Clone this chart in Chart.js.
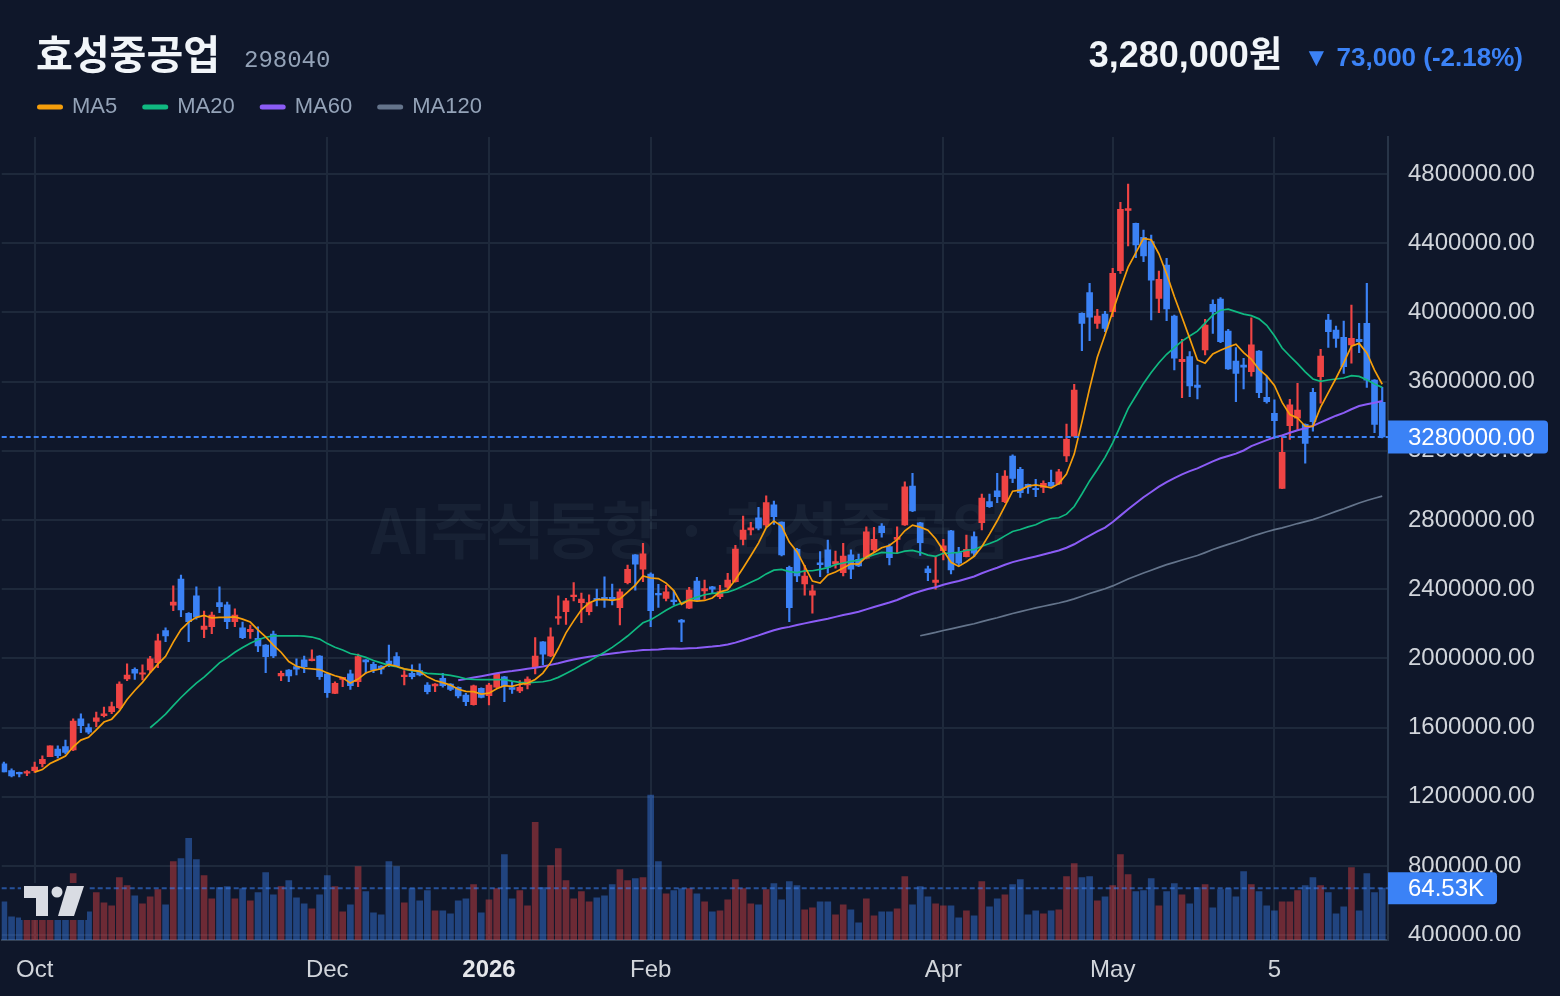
<!DOCTYPE html>
<html lang="ko">
<head>
<meta charset="utf-8">
<title>효성중공업 298040</title>
<script src="https://cdn.jsdelivr.net/npm/chart.js@4.4.1/dist/chart.umd.min.js"></script>
<style>
  html, body { margin: 0; padding: 0; background: #0f172a; }
  #wrap { width: 1560px; height: 996px; }
</style>
</head>
<body>
<div id="wrap"><canvas id="chart" width="1560" height="996"></canvas></div>
<script>
// 일봉 시세 (단위: 천원), 인덱스 0 = 2025년 9월 말
const opens = [
  1390,1351,1340,1336,1351,1391,1432,1476,1490,1471,
  1650,1600,1636,1669,1692,1715,1881,1937,1908,1933,
  1975,2160,2307,2459,2261,2361,2168,2183,2322,2309,
  2212,2176,2154,2116,2077,2141,1898,1933,1952,1991,
  1987,2014,1910,1798,1879,1910,1866,1991,1966,1956,
  1985,2010,1894,1914,1929,1846,1841,1885,1852,1833,
  1788,1732,1827,1784,1833,1894,1831,1812,1846,1949,
  2095,2014,2232,2270,2357,2322,2270,2347,2353,2353,
  2293,2438,2598,2515,2488,2376,2347,2336,2222,2290,
  2447,2390,2414,2357,2411,2443,2688,2742,2813,2771,
  2887,2788,2527,2631,2430,2366,2553,2627,2546,2495,
  2598,2573,2579,2627,2765,2646,2688,2771,2996,2783,
  2517,2439,2623,2738,2611,2588,2704,2784,2906,2969,
  2906,3170,3093,3006,2980,2989,3018,3008,3170,3285,
  3995,4114,3937,3991,4004,4241,4590,4515,4434,4409,
  4081,4274,3979,3715,3744,3580,3783,4047,4077,3892,
  3719,3696,3657,3777,3509,3417,2983,3345,3388,3353,
  3538,3628,3956,3898,3856,3812,3844,3937,3609,3480
];
const highs = [
  1401,1361,1342,1351,1401,1436,1494,1494,1528,1650,
  1679,1621,1690,1719,1748,1864,1968,1946,1962,2012,
  2141,2176,2419,2482,2265,2413,2274,2268,2413,2326,
  2286,2210,2193,2183,2080,2158,1927,1935,1997,2014,
  2049,2016,1912,1864,1891,1933,2025,1993,1979,1958,
  2077,2033,1929,1962,1968,1860,1854,1914,1854,1835,
  1798,1846,1830,1856,1914,1896,1865,1871,1894,2120,
  2097,2176,2361,2347,2438,2378,2367,2400,2471,2430,
  2400,2540,2600,2665,2495,2428,2423,2390,2226,2411,
  2469,2453,2416,2423,2492,2654,2823,2787,2873,2939,
  2910,2790,2534,2636,2538,2424,2617,2684,2621,2665,
  2627,2603,2761,2758,2779,2661,2760,3021,3070,2786,
  2534,2589,2688,2740,2642,2713,2732,2950,2950,3070,
  3085,3176,3105,3008,3035,3027,3089,3093,3355,3584,
  3998,4168,4018,4006,4255,4636,4742,4517,4476,4447,
  4239,4313,3985,3844,3773,3696,3960,4072,4085,3902,
  3796,3735,3969,3780,3632,3494,3291,3498,3590,3356,
  3561,3787,3989,3921,3950,4043,3937,4168,3612,3567
];
const lows = [
  1343,1315,1315,1322,1341,1372,1432,1424,1447,1467,
  1571,1563,1605,1661,1680,1708,1871,1879,1875,1917,
  1946,2097,2276,2241,2097,2226,2120,2143,2264,2172,
  2183,2114,2116,2039,1917,2004,1871,1865,1904,1917,
  1985,1879,1775,1796,1837,1821,1837,1914,1917,1910,
  1952,1955,1846,1881,1898,1794,1808,1833,1813,1771,
  1727,1730,1772,1731,1831,1750,1798,1802,1823,1910,
  1962,2010,2197,2197,2332,2206,2251,2303,2295,2309,
  2193,2430,2395,2443,2183,2295,2332,2309,2097,2288,
  2333,2342,2376,2345,2400,2441,2656,2713,2742,2761,
  2775,2592,2212,2443,2366,2261,2472,2492,2521,2476,
  2461,2530,2575,2611,2700,2540,2608,2769,2848,2595,
  2449,2400,2569,2488,2534,2586,2588,2742,2873,2900,
  2900,3016,2931,2954,2935,2958,2995,3006,3137,3283,
  3779,3836,3908,3888,3975,4226,4384,4316,4293,3956,
  3998,3952,3667,3507,3513,3500,3754,3879,3825,3671,
  3484,3557,3632,3507,3475,3272,2981,3266,3324,3128,
  3314,3475,3798,3798,3648,3706,3767,3567,3305,3275
];
const closes = [
  1343,1320,1332,1345,1372,1417,1494,1438,1457,1638,
  1611,1573,1657,1680,1721,1852,1904,1914,1917,1997,
  2101,2130,2326,2280,2212,2238,2187,2251,2299,2212,
  2251,2120,2168,2072,2010,2014,1914,1898,1937,1952,
  1995,1894,1802,1856,1891,1842,2010,1979,1933,1937,
  1968,1956,1904,1894,1904,1808,1852,1842,1821,1783,
  1750,1841,1774,1846,1910,1841,1821,1833,1881,2014,
  2025,2124,2241,2332,2362,2343,2322,2338,2338,2338,
  2384,2515,2544,2604,2276,2367,2384,2328,2210,2395,
  2338,2403,2400,2386,2453,2632,2742,2754,2752,2900,
  2819,2598,2293,2476,2476,2390,2542,2527,2559,2592,
  2515,2534,2732,2688,2727,2582,2700,2991,2852,2669,
  2495,2453,2650,2511,2550,2631,2608,2926,2877,2935,
  3054,3041,2958,2989,2975,3012,2996,3079,3266,3551,
  3937,3972,3979,3908,4226,4596,4600,4390,4326,4187,
  4191,4020,3735,3729,3575,3567,3927,4004,3831,3673,
  3648,3683,3812,3536,3484,3374,3191,3465,3436,3243,
  3368,3748,3888,3850,3686,3850,3831,3609,3353,3280
];
// 거래량 (단위: 천주)
const volumes = [
  47.6,28.8,27.6,40.1,46.4,42.6,61.4,42.6,48.9,82.7,
  55.1,35.1,58.9,46.4,42.6,77.7,67.7,55.1,45.1,53.9,
  62.7,43.9,97.7,101.5,126.6,100.3,80.2,51.4,65.2,66.4,
  51.4,63.9,48.9,58.9,84.0,56.4,66.4,73.9,52.6,45.1,
  38.8,56.4,80.2,66.4,35.1,43.9,91.5,60.2,33.8,31.3,
  97.7,91.5,46.4,63.9,48.9,61.4,36.3,36.3,32.6,48.9,
  51.4,68.9,33.8,50.1,63.9,106.5,51.4,61.4,42.6,146.6,
  65.2,92.7,114.0,73.9,51.4,60.2,47.6,52.6,55.1,68.9,
  87.7,73.9,76.4,77.7,180.5,97.7,57.6,61.4,63.9,63.9,
  57.6,47.6,35.1,36.3,50.1,75.2,63.9,45.1,43.9,62.7,
  70.2,50.1,72.7,67.7,37.6,40.1,47.6,47.6,31.3,43.9,
  37.6,21.3,51.4,30.1,35.1,35.1,38.8,78.9,43.9,66.4,
  53.9,45.1,42.6,42.6,27.6,36.3,30.1,72.7,41.4,51.4,
  56.4,68.9,75.2,31.3,36.3,32.6,36.3,37.6,78.9,95.2,
  77.7,78.9,48.9,53.9,67.7,106.5,81.5,60.2,61.4,76.4,
  42.6,60.2,70.2,56.4,45.1,65.2,68.9,40.1,62.7,63.9,
  53.9,85.2,68.9,60.2,42.6,36.3,47.6,47.6,61.4,67.7,
  77.7,67.7,58.9,32.6,41.4,90.2,36.3,82.7,58.9,64.53
];

// 시간축 눈금 (봉 인덱스 / 표시 글자)
const tickIdx = [4, 42, 63, 84, 122, 144, 165];
const tickLabels = ['Oct', 'Dec', '2026', 'Feb', 'Apr', 'May', '5'];
// 가격축 눈금
const priceTicks = [400000, 800000, 1200000, 1600000, 2000000, 2400000, 2800000,
  3200000, 3600000, 4000000, 4400000, 4800000];

const maPeriods = [5, 20, 60, 120];
const maColors = ['#f59e0b', '#10b981', '#8b5cf6', '#64748b'];

const BG = '#0f172a';
const UP = '#ef4444';
const DOWN = '#3b82f6';
const SANS = '"Liberation Sans", Arial, "Noto Sans CJK KR", sans-serif';

const lastPrice = closes[closes.length - 1] * 1000;
const lastVol = volumes[volumes.length - 1] * 1000;
const prevClose = closes[closes.length - 2] * 1000;

const isUp = closes.map((c, i) => c >= opens[i]);
const candleColor = isUp.map(u => u ? UP : DOWN);
const volColor = isUp.map(u => u ? 'rgba(239,68,68,0.42)' : 'rgba(59,130,246,0.42)');

// 이동평균선 (종가 기준)
function movingAvg(n) {
  const out = [];
  for (let i = n - 1; i < closes.length; i++) {
    let s = 0;
    for (let k = i - n + 1; k <= i; k++) s += closes[k];
    out.push({ x: i, y: s / n * 1000 });
  }
  return out;
}

const maDatasets = maPeriods.map((n, k) => ({
  type: 'line',
  label: 'MA' + n,
  data: movingAvg(n),
  borderColor: maColors[k],
  borderWidth: n === 60 ? 2 : 1.7,
  pointRadius: 0,
  tension: 0,
  fill: false,
  yAxisID: 'y',
  order: 1
}));

function fmt(n) {
  return n.toLocaleString('en-US');
}

const overlay = {
  id: 'overlay',
  beforeDraw(chart) {
    const c = chart.ctx;
    c.save();
    c.fillStyle = BG;
    c.fillRect(0, 0, chart.width, chart.height);
    c.restore();
  },
  beforeDatasetsDraw(chart) {
    const c = chart.ctx;
    c.save();
    c.font = 'bold 62px "Noto Sans CJK KR", sans-serif';
    c.fillStyle = 'rgba(148,163,184,0.07)';
    c.textAlign = 'center';
    c.textBaseline = 'middle';
    c.fillText('AI주식동향 · 효성중공업', 690, 530);
    c.restore();
  },
  afterDatasetsDraw(chart) {
    const c = chart.ctx;
    const a = chart.chartArea;
    const py = chart.scales.y.getPixelForValue(lastPrice);
    const vy = chart.scales.yv.getPixelForValue(lastVol);
    c.save();
    c.lineWidth = 2;
    c.setLineDash([5, 3]);
    c.strokeStyle = 'rgba(59,130,246,0.55)';
    c.beginPath(); c.moveTo(a.left, vy); c.lineTo(a.right, vy); c.stroke();
    c.strokeStyle = '#3b82f6';
    c.beginPath(); c.moveTo(a.left, py); c.lineTo(a.right, py); c.stroke();
    c.restore();
  },
  afterDraw(chart) {
    const c = chart.ctx;
    const a = chart.chartArea;
    c.save();

    // 가격축 하단 잘림
    c.fillStyle = BG;
    c.fillRect(a.right + 1, a.bottom + 1, chart.width - a.right, chart.height - a.bottom);

    // 현재가 / 거래량 라벨
    const py = chart.scales.y.getPixelForValue(lastPrice);
    const vy = chart.scales.yv.getPixelForValue(lastVol);
    c.fillStyle = '#3b82f6';
    c.beginPath(); c.roundRect(a.right, py - 16.5, 160, 33, [0, 4, 4, 0]); c.fill();
    c.beginPath(); c.roundRect(a.right, vy - 16, 109, 32, [0, 4, 4, 0]); c.fill();
    c.fillStyle = '#ffffff';
    c.font = '24px ' + SANS;
    c.textAlign = 'left';
    c.textBaseline = 'middle';
    c.fillText(lastPrice.toFixed(2), a.right + 20, py + 1);
    c.fillText((lastVol / 1000).toFixed(2) + 'K', a.right + 20, vy + 1);

    // 종목명 / 코드
    c.textBaseline = 'alphabetic';
    c.fillStyle = '#f1f5f9';
    c.font = 'bold 40px "Noto Sans CJK KR", sans-serif';
    c.fillText('효성중공업', 36, 69);
    c.fillStyle = '#94a3b8';
    c.font = '24px "Liberation Mono", monospace';
    c.fillText('298040', 244, 67);

    // 현재가 / 등락
    const diff = lastPrice - prevClose;
    const pct = diff / prevClose * 100;
    c.textAlign = 'right';
    c.fillStyle = '#3b82f6';
    c.font = 'bold 26px ' + SANS;
    c.fillText('▼ ' + fmt(Math.abs(diff)) + ' (' + pct.toFixed(2) + '%)', 1523, 66);
    c.fillStyle = '#f1f5f9';
    c.font = 'bold 36px ' + SANS;
    c.fillText(fmt(lastPrice) + '원', 1282, 67);

    // 범례
    let lx = 37;
    c.textAlign = 'left';
    c.textBaseline = 'middle';
    c.font = '22px ' + SANS;
    c.lineCap = 'round';
    c.lineWidth = 5;
    maPeriods.forEach((n, k) => {
      c.strokeStyle = maColors[k];
      c.beginPath(); c.moveTo(lx + 2.5, 107); c.lineTo(lx + 23.5, 107); c.stroke();
      c.fillStyle = '#94a3b8';
      const t = 'MA' + n;
      c.fillText(t, lx + 35, 107);
      lx += 35 + c.measureText(t).width + 25;
    });

    // 로고
    c.fillStyle = BG;
    c.fillRect(21, 883, 66, 37);
    c.fillStyle = '#d9dce3';
    c.fillRect(24, 886, 24, 12);
    c.fillRect(36, 886, 12, 30);
    c.beginPath(); c.arc(57, 892, 5.5, 0, Math.PI * 2); c.fill();
    c.beginPath();
    c.moveTo(67, 886); c.lineTo(84, 886); c.lineTo(74, 916); c.lineTo(58, 916);
    c.closePath(); c.fill();

    c.restore();
  }
};

new Chart(document.getElementById('chart'), {
  type: 'bar',
  data: {
    datasets: [
      ...maDatasets,
      {
        label: 'body',
        data: opens.map((o, i) => ({ x: i, y: [o * 1000, closes[i] * 1000] })),
        backgroundColor: candleColor,
        borderWidth: 0,
        barThickness: 6,
        minBarLength: 1.5,
        grouped: false,
        yAxisID: 'y',
        order: 4
      },
      {
        label: 'wick',
        data: lows.map((l, i) => ({ x: i, y: [l * 1000, highs[i] * 1000] })),
        backgroundColor: candleColor,
        borderWidth: 0,
        barThickness: 1.5,
        grouped: false,
        yAxisID: 'y',
        order: 5
      },
      {
        label: 'volume',
        data: volumes.map((v, i) => ({ x: i, y: v * 1000 })),
        backgroundColor: volColor,
        borderWidth: 0,
        barThickness: 6,
        grouped: false,
        yAxisID: 'yv',
        order: 10
      }
    ]
  },
  options: {
    responsive: false,
    animation: false,
    devicePixelRatio: 1,
    events: [],
    layout: { padding: { top: 137, left: 0, right: 0, bottom: 0 } },
    plugins: {
      legend: { display: false },
      tooltip: { enabled: false }
    },
    scales: {
      x: {
        type: 'linear',
        min: -0.28,
        max: 179.75,
        offset: false,
        grid: { color: '#1e293b', lineWidth: 2, offset: false, drawTicks: false },
        border: { display: true, color: '#334155', width: 2 },
        afterBuildTicks: s => { s.ticks = tickIdx.map(v => ({ value: v })); },
        afterFit: s => { s.height = 56; },
        ticks: {
          autoSkip: false,
          maxRotation: 0,
          padding: 16,
          color: ctx => tickLabels[ctx.index] === '2026' ? '#e5e7eb' : '#d1d5db',
          font: ctx => ({ size: 24, family: SANS, weight: tickLabels[ctx.index] === '2026' ? 'bold' : 'normal' }),
          callback: (v, i) => tickLabels[i]
        }
      },
      y: {
        position: 'right',
        min: 372000,
        max: 5014000,
        grid: { color: '#1e293b', lineWidth: 2, drawTicks: false },
        border: { display: true, color: '#283548', width: 2 },
        afterBuildTicks: s => { s.ticks = priceTicks.map(v => ({ value: v })); },
        afterFit: s => { s.width = 172; },
        ticks: {
          autoSkip: false,
          padding: 20,
          color: '#d1d5db',
          font: { size: 24, family: SANS },
          callback: v => Number(v).toFixed(2)
        }
      },
      yv: {
        display: false,
        min: 0,
        max: 1000000
      }
    }
  },
  plugins: [overlay]
});
</script>
</body>
</html>
